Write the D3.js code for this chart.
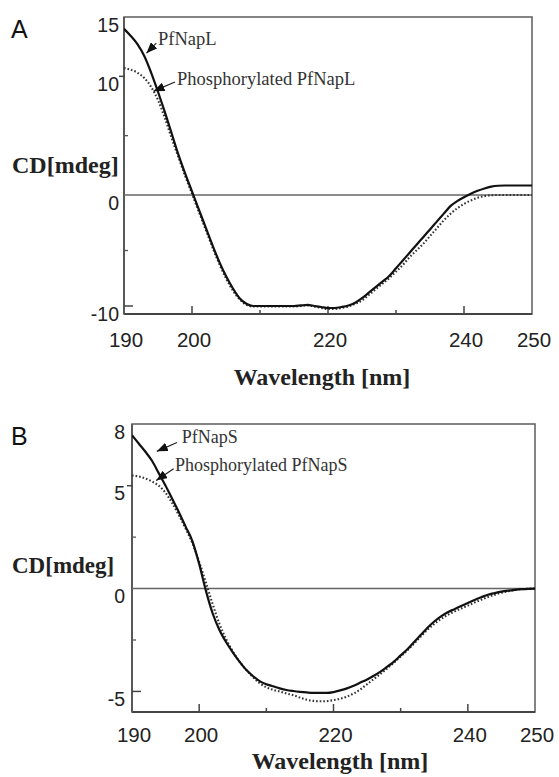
<!DOCTYPE html>
<html><head><meta charset="utf-8">
<script src="https://cdn.jsdelivr.net/npm/d3@7/dist/d3.min.js"></script>
<style>body{margin:0;background:#fff}svg{display:block}</style>
</head><body><svg id="c" width="559" height="777"></svg>
<script>
// ---------- DATA ----------
const wavelength = [190,191,192,193,194,195,196,197,198,199,200,201,202,203,204,205,206,207,208,209,210,211,212,213,214,215,216,217,218,219,220,221,222,223,224,225,226,227,228,229,230,231,232,233,234,235,236,237,238,239,240,241,242,243,244,245,246,247,248,249,250];

const pfNapL = [14.0,13.4,12.7,11.7,10.3,8.7,7.0,5.2,3.4,1.8,0.3,-1.3,-2.9,-4.5,-6.0,-7.3,-8.4,-9.3,-9.8,-10.0,-10.0,-10.0,-10.0,-10.0,-10.0,-10.0,-9.95,-9.9,-10.0,-10.1,-10.2,-10.2,-10.1,-9.95,-9.7,-9.3,-8.8,-8.3,-7.8,-7.3,-6.6,-5.9,-5.2,-4.5,-3.8,-3.1,-2.4,-1.7,-1.0,-0.55,-0.2,0.1,0.35,0.55,0.7,0.78,0.8,0.8,0.8,0.8,0.8];

const phosPfNapL = [10.7,10.55,10.3,9.85,9.1,8.0,6.5,4.8,3.2,1.6,0.1,-1.5,-3.1,-4.7,-6.2,-7.5,-8.6,-9.4,-9.9,-10.05,-10.05,-10.05,-10.05,-10.05,-10.05,-10.05,-10.0,-9.95,-10.05,-10.2,-10.3,-10.3,-10.2,-10.05,-9.8,-9.5,-9.0,-8.5,-8.0,-7.5,-6.9,-6.3,-5.6,-5.0,-4.4,-3.7,-3.0,-2.3,-1.7,-1.2,-0.8,-0.5,-0.25,-0.1,-0.02,0,0,0,0,0,0];

const pfNapS = [7.45,7.05,6.65,6.2,5.6,5.0,4.35,3.7,3.0,2.3,1.2,-0.1,-1.2,-2.0,-2.6,-3.1,-3.55,-3.95,-4.25,-4.5,-4.65,-4.75,-4.85,-4.93,-4.98,-5.02,-5.05,-5.07,-5.07,-5.07,-5.03,-4.95,-4.85,-4.72,-4.57,-4.42,-4.24,-4.04,-3.8,-3.55,-3.25,-2.95,-2.6,-2.25,-1.9,-1.6,-1.35,-1.15,-1.0,-0.85,-0.7,-0.55,-0.42,-0.3,-0.22,-0.15,-0.1,-0.06,-0.03,-0.01,0];

const phosPfNapS = [5.5,5.45,5.35,5.2,5.0,4.65,4.15,3.55,2.9,2.2,1.3,0.3,-0.75,-1.7,-2.45,-3.05,-3.55,-3.95,-4.3,-4.6,-4.8,-4.92,-5.0,-5.1,-5.18,-5.3,-5.4,-5.46,-5.48,-5.47,-5.42,-5.35,-5.25,-5.1,-4.9,-4.65,-4.4,-4.15,-3.88,-3.6,-3.3,-3.0,-2.67,-2.33,-2.0,-1.72,-1.48,-1.28,-1.12,-0.97,-0.83,-0.68,-0.54,-0.41,-0.3,-0.2,-0.13,-0.07,-0.03,-0.01,0];

const xTickLabels = [190,200,220,240,250];
const xMinorTicks = [210,230];
const yTicksA = [15,10,0,-10];
const yMinorA = [5,-5];
const yTicksB = [8,5,0,-5];
const yMinorB = [2.5,-2.5];
const seriesNamesA = ["PfNapL","Phosphorylated PfNapL"];
const seriesNamesB = ["PfNapS","Phosphorylated PfNapS"];
const panelLetters = ["A","B"];
const yTitle = "CD[mdeg]";
const xTitle = "Wavelength [nm]";

// ---------- LAYOUT ----------
const panels = [
  {
    letter: panelLetters[0], series: [pfNapL, phosPfNapL], names: seriesNamesA,
    yTicks: yTicksA, yMinor: yMinorA,
    x: d3.scaleLinear().domain([190,250]).range([124,532]),
    y: d3.scaleLinear().domain([-10.8,-10,0,15]).range([314,306,195,17]),
    yBottom: -10.8, yTop: 15,
    letterPos: [11,38], yTitlePos: [12,173], yTitleSize: 24,
    xTitlePos: [322,385], xLabelBase: 347, yLabelX: 119, annSize: 18.5,
    ann: [ {text:[195.0,12.64], from:[194.75,12.8], to:[193.3,11.95]},
           {text:[197.8,9.27], from:[197.5,9.52], to:[194.35,8.75]} ]
  },
  {
    letter: panelLetters[1], series: [pfNapS, phosPfNapS], names: seriesNamesB,
    yTicks: yTicksB, yMinor: yMinorB,
    x: d3.scaleLinear().domain([190,250]).range([132,535]),
    y: d3.scaleLinear().domain([-6,8]).range([712,424]),
    yBottom: -6, yTop: 8,
    letterPos: [11,445], yTitlePos: [12,573], yTitleSize: 23,
    xTitlePos: [340,769], xLabelBase: 742, yLabelX: 125, annSize: 18,
    ann: [ {text:[197.4,7.08], from:[196.7,7.1], to:[193.7,6.67]},
           {text:[196.4,5.70], from:[196.2,5.83], to:[193.6,5.25]} ]
  }
];

const svg = d3.select("#c");
svg.append("rect").attr("width",559).attr("height",777).attr("fill","#fff");

const defs = svg.append("defs");
defs.append("marker").attr("id","ah").attr("markerUnits","userSpaceOnUse")
  .attr("markerWidth",11).attr("markerHeight",9).attr("refX",11).attr("refY",4.5)
  .attr("orient","auto")
  .append("path").attr("d","M0,0L11,4.5L0,9Z").attr("fill","#111");

const sans = "'Liberation Sans', Arial, sans-serif";
const serif = "'Liberation Serif', 'Times New Roman', serif";

panels.forEach((p, i) => {
  const g = svg.append("g");
  const [x0, x1] = p.x.range();
  const yb = p.y(p.yBottom), yt = p.y(p.yTop);

  defs.append("clipPath").attr("id","clip"+i)
    .append("rect").attr("x",x0).attr("y",yt).attr("width",x1-x0).attr("height",yb-yt);

  // frame
  g.append("rect").attr("x",x0).attr("y",yt).attr("width",x1-x0).attr("height",yb-yt)
    .attr("fill","none").attr("stroke","#666").attr("stroke-width",1.6);
  g.append("line").attr("x1",x0).attr("x2",x1).attr("y1",yb).attr("y2",yb)
    .attr("stroke","#444").attr("stroke-width",1.8);
  g.append("line").attr("x1",x0).attr("x2",x0).attr("y1",yt).attr("y2",yb)
    .attr("stroke","#555").attr("stroke-width",1.8);
  // zero line
  g.append("line").attr("x1",x0).attr("x2",x1).attr("y1",p.y(0)).attr("y2",p.y(0))
    .attr("stroke","#666").attr("stroke-width",1.6);

  // x ticks (inward)
  xTickLabels.filter(v => v > 190 && v < 250).forEach(v => {
    g.append("line").attr("x1",p.x(v)).attr("x2",p.x(v)).attr("y1",yb).attr("y2",yb-8)
      .attr("stroke","#444").attr("stroke-width",1.5);
  });
  xMinorTicks.forEach(v => {
    g.append("line").attr("x1",p.x(v)).attr("x2",p.x(v)).attr("y1",yb).attr("y2",yb-4)
      .attr("stroke","#444").attr("stroke-width",1.5);
  });
  xTickLabels.forEach(v => {
    g.append("text").attr("x",p.x(v)+2).attr("y",p.xLabelBase)
      .attr("text-anchor","middle").attr("font-family",sans).attr("font-size",20.5)
      .attr("fill","#222").text(v);
  });

  // y ticks
  p.yTicks.forEach(v => {
    if (v === 0 || v === p.yTop) return;
    const out = v > 0;
    g.append("line").attr("x1", out ? x0-5 : x0).attr("x2", out ? x0+1 : x0+9)
      .attr("y1",p.y(v)).attr("y2",p.y(v)).attr("stroke","#444").attr("stroke-width",1.5);
  });
  p.yMinor.forEach(v => {
    g.append("line").attr("x1",x0).attr("x2",x0+4)
      .attr("y1",p.y(v)).attr("y2",p.y(v)).attr("stroke","#555").attr("stroke-width",1.3);
  });
  p.yTicks.forEach(v => {
    g.append("text").attr("x",p.yLabelX).attr("y",p.y(v)+14.5)
      .attr("text-anchor","end").attr("font-family",sans).attr("font-size",19.5)
      .attr("fill","#222").text(v < 0 ? "-" + Math.abs(v) : v);
  });

  // titles
  g.append("text").attr("x",p.letterPos[0]).attr("y",p.letterPos[1])
    .attr("font-family",sans).attr("font-size",25).attr("fill","#111").text(p.letter);
  g.append("text").attr("x",p.yTitlePos[0]).attr("y",p.yTitlePos[1])
    .attr("font-family",serif).attr("font-weight","bold").attr("font-size",p.yTitleSize)
    .attr("fill","#222").text(yTitle);
  g.append("text").attr("x",p.xTitlePos[0]).attr("y",p.xTitlePos[1])
    .attr("text-anchor","middle").attr("font-family",serif).attr("font-weight","bold")
    .attr("font-size",24).attr("fill","#222").text(xTitle);

  // curves
  const line = d3.line().x((d,k) => p.x(wavelength[k])).y(d => p.y(d)).curve(d3.curveMonotoneX);
  const cg = g.append("g").attr("clip-path","url(#clip"+i+")");
  cg.append("path").datum(p.series[1]).attr("d",line).attr("fill","none")
    .attr("stroke","#333").attr("stroke-width",2.1).attr("stroke-dasharray","1.6,2");
  cg.append("path").datum(p.series[0]).attr("d",line).attr("fill","none")
    .attr("stroke","#111").attr("stroke-width",2.2);

  // annotations
  p.ann.forEach((a, k) => {
    g.append("line").attr("x1",p.x(a.from[0])).attr("y1",p.y(a.from[1]))
      .attr("x2",p.x(a.to[0])).attr("y2",p.y(a.to[1]))
      .attr("stroke","#222").attr("stroke-width",1.2).attr("marker-end","url(#ah)");
    g.append("text").attr("x",p.x(a.text[0])).attr("y",p.y(a.text[1]))
      .attr("font-family",serif).attr("font-size",p.annSize).attr("fill","#333")
      .text(p.names[k]);
  });
});
</script></body></html>
